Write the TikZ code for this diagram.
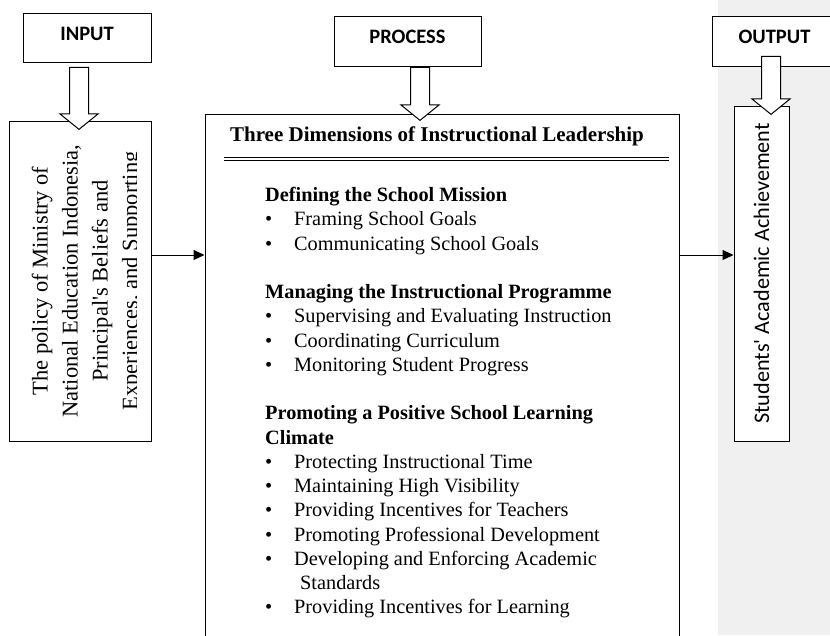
\documentclass[tikz,border=0pt]{standalone}
\usepackage{fontspec}
\setmainfont{Liberation Serif}
\newfontfamily\calibri{Carlito}
\usetikzlibrary{shapes.arrows, arrows.meta, calc}
\definecolor{panel}{RGB}{240,240,240}
\newcommand{\itm}[1]{\makebox[29pt][l]{\textbullet}#1}

\begin{document}
\begin{tikzpicture}[
    x=1pt, y=-1pt,
    box/.style={rectangle, draw, fill=white, line width=1pt, inner sep=0pt},
    head/.style={box, minimum height=50pt, text height=13pt, text depth=8pt,
                 font=\calibri\bfseries\fontsize{20.5}{24}\selectfont},
    hollow/.style={single arrow, draw, fill=white, line width=1pt, rotate=-90,
                   inner xsep=0pt, inner ysep=9pt, single arrow head extend=9.5pt,
                   single arrow tip angle=102, anchor=tip},
    arrow/.style={-{Triangle[length=11pt, width=10pt]}, line width=1pt},
    body/.style={font=\fontsize{20.3}{24.25}\selectfont, align=left, inner sep=0pt},
]

% ---------- page and grey output panel ----------
\path[use as bounding box, clip] (0,0) rectangle (830,635);
\fill[panel] (718,0) rectangle (830,635);

% ---------- Input column ----------
\node[head, minimum width=128pt, minimum height=49pt] (input) at (87,37.5) {INPUT};
\node[box, minimum width=142pt, minimum height=320pt] (policy) at (80,281) {};
\begin{scope}
  \clip (policy.north west) rectangle ($(policy.south east)+(-15,0)$);
  \node[rotate=90, anchor=north, align=center, inner sep=0pt,
        font=\fontsize{22.5}{30}\selectfont] (policytext) at (31.5,281)
        {The policy of Ministry of\\ National Education Indonesia,\\
         Principal\textquotesingle s Beliefs and\\ Experiences, and Supporting};
\end{scope}
\node[hollow, minimum height=62pt] (inarrow) at (79,130) {};

% ---------- Process column ----------
\node[head, minimum width=147pt] (process) at (407.5,41) {PROCESS};
\node[box, minimum width=474pt, minimum height=546pt] (dims) at (442,387) {};
\node[hollow, minimum height=53pt] (procarrow) at (420,121) {};
\node[font=\bfseries\fontsize{21}{24}\selectfont, anchor=base] (title) at (437,141)
      {Three Dimensions of Instructional Leadership};
\draw[double, double distance=2.5pt, line width=0.8pt]
      ($(dims.north west)+(19,45.5)$) -- ($(dims.north east)+(-11,45.5)$);
\node[body, anchor=north west] (roles) at (265,187) {%
  \textbf{Defining the School Mission}\\
  \itm{Framing School Goals}\\
  \itm{Communicating School Goals}\\[24.25pt]
  \textbf{Managing the Instructional Programme}\\
  \itm{Supervising and Evaluating Instruction}\\
  \itm{Coordinating Curriculum}\\
  \itm{Monitoring Student Progress}\\[24.25pt]
  \textbf{Promoting a Positive School Learning}\\
  \textbf{Climate}\\
  \itm{Protecting Instructional Time}\\
  \itm{Maintaining High Visibility}\\
  \itm{Providing Incentives for Teachers}\\
  \itm{Promoting Professional Development}\\
  \itm{Developing and Enforcing Academic}\\
  \hspace*{35pt}Standards\\
  \itm{Providing Incentives for Learning}};

% ---------- Output column ----------
\node[head, minimum width=125pt] (output) at (774.5,41) {OUTPUT};
\node[box, rotate=90, minimum width=335pt, minimum height=55pt,
      font=\calibri\fontsize{22.2}{26}\selectfont] (achieve) at (761.5,273.5)
      {Students\textquotesingle\ Academic Achievement};
\node[hollow, minimum height=58pt] (outarrow) at (771,115) {};

% ---------- flow between columns ----------
\coordinate (level) at (0,255);
\draw[arrow] (policy.east |- level) -- (dims.west |- level);
\draw[arrow] (dims.east |- level) -- (achieve.north |- level);

\end{tikzpicture}
\end{document}
